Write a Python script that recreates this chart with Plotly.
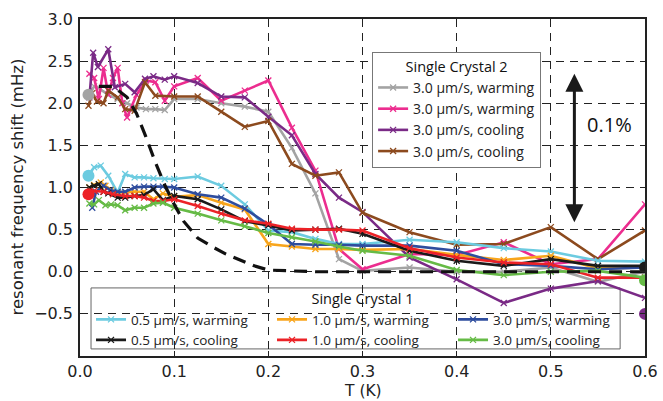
import plotly.graph_objects as go

# ---------------- data ----------------
# Single Crystal 1
c1_x = [0.01, 0.015, 0.022, 0.03, 0.04, 0.048, 0.058, 0.068, 0.078, 0.09, 0.1, 0.125, 0.15, 0.175, 0.2,
        0.225, 0.25, 0.275, 0.3, 0.35, 0.4, 0.45, 0.5, 0.55, 0.6]
c1_y = [1.16, 1.24, 1.26, 1.14, 0.94, 1.16, 1.12, 1.12, 1.11, 1.1, 1.1, 1.13, 1.02, 0.8, 0.49,
        0.47, 0.39, 0.33, 0.33, 0.38, 0.35, 0.28, 0.24, 0.13, 0.12]

k1_x = [0.01, 0.015, 0.02, 0.025, 0.03, 0.04, 0.048, 0.058, 0.068, 0.078, 0.088, 0.1, 0.125, 0.15, 0.175,
        0.2, 0.225, 0.25, 0.275, 0.3, 0.35, 0.4, 0.45, 0.5, 0.55, 0.6]
k1_y = [1.0, 1.02, 1.04, 0.95, 0.93, 0.88, 0.88, 0.9, 0.91, 0.98, 0.85, 0.9, 0.86, 0.74, 0.6,
        0.55, 0.49, 0.5, 0.51, 0.45, 0.25, 0.13, 0.07, 0.15, 0.07, 0.07]

o1_x = [0.01, 0.015, 0.022, 0.027, 0.033, 0.04, 0.048, 0.058, 0.068, 0.078, 0.088, 0.1, 0.125, 0.15, 0.175,
        0.2, 0.225, 0.25, 0.275, 0.3, 0.35, 0.4, 0.45, 0.5, 0.55, 0.6]
o1_y = [1.0, 1.03, 1.06, 1.02, 0.97, 0.94, 0.94, 0.95, 0.95, 0.86, 0.93, 0.89, 0.91, 0.82, 0.74,
        0.33, 0.3, 0.27, 0.27, 0.26, 0.27, 0.2, 0.14, 0.19, 0.04, 0.05]

r1_x = [0.01, 0.015, 0.025, 0.035, 0.048, 0.058, 0.068, 0.078, 0.088, 0.1, 0.125, 0.15, 0.175, 0.2,
        0.225, 0.25, 0.275, 0.3, 0.35, 0.4, 0.45, 0.5, 0.55, 0.6]
r1_y = [0.92, 0.96, 0.95, 0.92, 0.9, 0.9, 0.88, 0.84, 0.84, 0.86, 0.78, 0.69, 0.61, 0.57,
        0.51, 0.5, 0.5, 0.49, 0.28, 0.17, 0.11, 0.09, -0.07, -0.07]

b1_x = [0.013, 0.017, 0.025, 0.032, 0.04, 0.048, 0.058, 0.068, 0.078, 0.088, 0.1, 0.125, 0.15, 0.175, 0.2,
        0.225, 0.25, 0.275, 0.3, 0.35, 0.4, 0.45, 0.5, 0.55, 0.6]
b1_y = [0.76, 0.95, 1.02, 0.97, 0.95, 0.95, 1.0, 1.01, 1.01, 1.01, 1.0, 0.92, 0.88, 0.75, 0.56,
        0.33, 0.32, 0.32, 0.31, 0.31, 0.25, 0.09, 0.07, 0.03, 0.05]

g1_x = [0.01, 0.015, 0.02, 0.027, 0.033, 0.04, 0.048, 0.058, 0.068, 0.078, 0.088, 0.1, 0.125, 0.15, 0.175,
        0.2, 0.225, 0.25, 0.275, 0.3, 0.35, 0.4, 0.45, 0.5, 0.55, 0.6]
g1_y = [0.81, 0.8, 0.85, 0.79, 0.8, 0.79, 0.73, 0.76, 0.76, 0.81, 0.82, 0.76, 0.69, 0.61, 0.54,
        0.46, 0.41, 0.36, 0.3, 0.25, 0.19, 0.02, -0.04, 0.0, 0.01, -0.07]

# Single Crystal 2
gr2_x = [0.01, 0.015, 0.02, 0.03, 0.04, 0.05, 0.06, 0.07, 0.08, 0.09, 0.1, 0.125, 0.15, 0.175, 0.2,
         0.225, 0.25, 0.275, 0.3, 0.35, 0.4, 0.45, 0.5, 0.55, 0.6]
gr2_y = [2.1, 2.2, 2.18, 2.1, 2.05, 2.0, 1.95, 1.93, 1.93, 1.92, 2.05, 2.05, 2.0, 1.96, 1.9,
         1.47, 0.93, 0.15, 0.01, 0.05, 0.0, 0.0, 0.05, -0.12, 0.0]

pk2_x = [0.01, 0.015, 0.02, 0.025, 0.03, 0.035, 0.04, 0.045, 0.05, 0.06, 0.07, 0.08, 0.09, 0.1, 0.125,
         0.15, 0.175, 0.2, 0.225, 0.25, 0.275, 0.3, 0.35, 0.4, 0.45, 0.5, 0.55, 0.6]
pk2_y = [2.35, 2.3, 2.05, 2.42, 2.1, 2.3, 2.42, 2.0, 1.83, 2.1, 2.27, 2.25, 2.03, 2.2, 2.3,
         2.03, 2.15, 2.27, 1.71, 1.2, 0.27, 0.03, 0.21, 0.2, 0.35, 0.09, 0.15, 0.8]

pu2_x = [0.01, 0.014, 0.019, 0.03, 0.037, 0.048, 0.058, 0.069, 0.078, 0.09, 0.1, 0.125, 0.15, 0.175, 0.2,
         0.225, 0.25, 0.275, 0.3, 0.35, 0.4, 0.45, 0.5, 0.55, 0.6]
pu2_y = [2.07, 2.6, 2.43, 2.64, 2.19, 2.23, 2.13, 2.29, 2.32, 2.28, 2.32, 2.24, 2.08, 2.07, 1.84,
         1.62, 1.16, 0.88, 0.71, 0.17, -0.09, -0.37, -0.2, -0.11, -0.31]

br2_x = [0.009, 0.013, 0.018, 0.025, 0.03, 0.04, 0.048, 0.058, 0.069, 0.08, 0.1, 0.125, 0.15, 0.175, 0.2,
         0.225, 0.25, 0.275, 0.3, 0.35, 0.4, 0.45, 0.5, 0.55, 0.6]
br2_y = [1.97, 2.12, 2.02, 2.0, 2.15, 2.07, 1.93, 1.91, 2.25, 2.09, 2.08, 2.08, 1.9, 1.72, 1.79,
         1.28, 1.14, 1.18, 0.7, 0.47, 0.32, 0.33, 0.53, 0.15, 0.49]

# model (dashed) curve
model_x = [0.02, 0.035, 0.05, 0.06, 0.07, 0.08, 0.09, 0.1, 0.11, 0.125, 0.14, 0.155, 0.17, 0.185, 0.2,
           0.25, 0.3, 0.4, 0.5, 0.6]
model_y = [2.2, 2.2, 2.07, 1.88, 1.6, 1.3, 1.03, 0.8, 0.6, 0.4, 0.3, 0.21, 0.14, 0.07, 0.02,
           0.0, 0.0, 0.0, 0.0, 0.0]

# start-point dots
dot_x = [0.009, 0.009, 0.009, 0.6, 0.6, 0.6]
dot_y = [2.1, 1.14, 0.92, 0.05, -0.1, -0.5]

CYAN, BLACK, ORANGE, RED, BLUE, GREEN = "#6ccbe0", "#1a1a1a", "#f8a51c", "#ec2227", "#2e4d9e", "#66bb46"
GRAY, PINK, PURPLE, BROWN = "#a3a3a3", "#ec2d8f", "#7a2a86", "#8c4a1e"
dot_c = [GRAY, CYAN, RED, BLACK, GREEN, PURPLE]

fig = go.Figure()

def add(x, y, color, name, legend):
    fig.add_trace(go.Scatter(
        x=x, y=y, mode="lines+markers", name=name, legend=legend,
        line=dict(color=color, width=2.6),
        marker=dict(symbol="x-thin", size=6, line=dict(color=color, width=1.3)),
    ))

# Single Crystal 2 legend (legend2)
add(gr2_x, gr2_y, GRAY, "3.0 μm/s, warming", "legend2")
add(pk2_x, pk2_y, PINK, "3.0 μm/s, warming", "legend2")
add(pu2_x, pu2_y, PURPLE, "3.0 μm/s, cooling", "legend2")
add(br2_x, br2_y, BROWN, "3.0 μm/s, cooling", "legend2")

# Single Crystal 1 legend (legend) ordered row-wise
add(c1_x, c1_y, CYAN, "0.5 μm/s, warming", "legend")
add(o1_x, o1_y, ORANGE, "1.0 μm/s, warming", "legend")
add(b1_x, b1_y, BLUE, "3.0 μm/s, warming", "legend")
add(k1_x, k1_y, BLACK, "0.5 μm/s, cooling", "legend")
add(r1_x, r1_y, RED, "1.0 μm/s, cooling", "legend")
add(g1_x, g1_y, GREEN, "3.0 μm/s, cooling", "legend")

fig.add_trace(go.Scatter(x=model_x, y=model_y, mode="lines", showlegend=False,
                         line=dict(color="#111111", width=3.2, dash="13px,8px")))

fig.add_trace(go.Scatter(x=dot_x, y=dot_y, mode="markers", showlegend=False,
                         marker=dict(size=12, color=dot_c)))

# white box behind the "Single Crystal 1" legend, drawn under the data (over the grid)
fig.add_shape(type="rect", xref="paper", yref="paper", x0=0.0195, x1=0.956, y0=0.021, y1=0.202,
              layer="between", fillcolor="white", line=dict(color="#666666", width=1))

# arrow with "0.1%"
fig.add_annotation(x=0.525, y=2.35, ax=0.525, ay=0.57, xref="x", yref="y", axref="x", ayref="y",
                   text="", showarrow=True, arrowhead=2, arrowside="end+start",
                   arrowwidth=3, arrowsize=1.2, arrowcolor="#1a1a1a")
fig.add_annotation(x=0.562, y=1.75, xref="x", yref="y", text="0.1%", showarrow=False,
                   font=dict(family="Open Sans", size=20, color="#111111"))

legend_font = dict(family="Open Sans", size=14, color="#222222")
axis_font = dict(family="DejaVu Sans", size=16, color="#222222")

# axis titles
fig.add_annotation(x=0.5, y=-0.1325, xref="paper", yref="paper", text="T (K)", showarrow=False,
                   xanchor="center", yanchor="bottom", borderpad=0,
                   font=dict(family="DejaVu Sans", size=15.5, color="#222222"))
fig.add_annotation(x=-0.1115, y=0.5, xref="paper", yref="paper", text="resonant frequency shift (mHz)",
                   showarrow=False, textangle=-90, xanchor="center", yanchor="middle",
                   font=dict(family="DejaVu Sans", size=16.5, color="#222222"))

fig.update_layout(
    width=663, height=401,
    margin=dict(l=80, r=18, t=19, b=45, autoexpand=False),
    plot_bgcolor="white", paper_bgcolor="white",
    legend2=dict(
        x=0.517, y=0.902, xanchor="left", yanchor="top",
        bgcolor="white", bordercolor="#777777", borderwidth=1,
        font=legend_font, tracegroupgap=0, itemwidth=30,
        title=dict(text="Single Crystal 2", font=dict(family="Open Sans", size=14.5, color="#111111"),
                   side="top center"),
    ),
    legend=dict(
        x=0.0195, y=0.21, xanchor="left", yanchor="top", orientation="h",
        bgcolor="rgba(0,0,0,0)", borderwidth=0,
        font=dict(family="Open Sans", size=13.5, color="#222222"),
        entrywidth=136, entrywidthmode="pixels", itemwidth=30,
        title=dict(text="Single Crystal 1", font=dict(family="Open Sans", size=14.5, color="#111111"),
                   side="top center"),
    ),
    xaxis=dict(
        range=[0, 0.6], tickvals=[0, 0.1, 0.2, 0.3, 0.4, 0.5, 0.6],
        ticktext=["0.0", "0.1", "0.2", "0.3", "0.4", "0.5", "0.6"],
        showgrid=True, gridcolor="#222222", gridwidth=1, griddash="8px,6px",
        showline=True, linecolor="#222222", linewidth=1.5, mirror="ticks",
        ticks="inside", ticklen=5, tickcolor="#222222", zeroline=False,
        tickfont=axis_font, ticklabelstandoff=0, automargin=False,
    ),
    yaxis=dict(
        range=[-1, 3], tickvals=[-0.5, 0, 0.5, 1, 1.5, 2, 2.5, 3],
        ticktext=["−0.5", "0.0", "0.5", "1.0", "1.5", "2.0", "2.5", "3.0"],
        showgrid=True, gridcolor="#222222", gridwidth=1, griddash="8px,6px",
        showline=True, linecolor="#222222", linewidth=1.5, mirror="ticks",
        ticks="inside", ticklen=5, tickcolor="#222222", zeroline=False,
        tickfont=axis_font, ticklabelstandoff=2, automargin=False,
    ),
)

fig.write_html("out.html", config={"displayModeBar": False},
               post_script="document.body.style.margin='0px';")
